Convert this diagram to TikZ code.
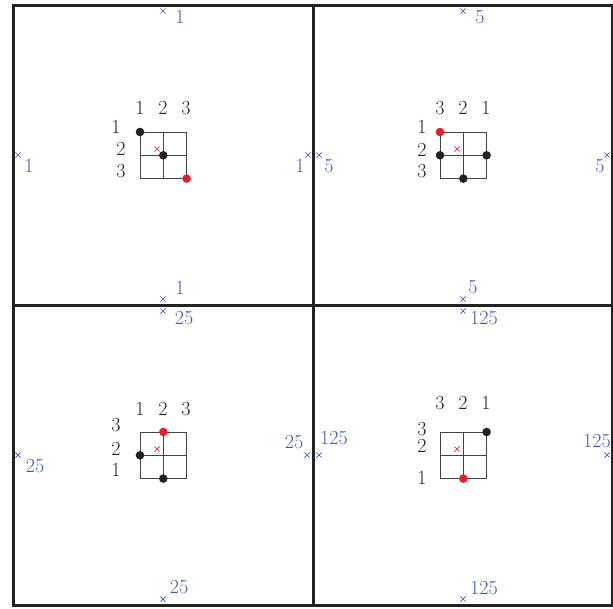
\documentclass[tikz,border=0pt]{standalone}
\usetikzlibrary{shapes.misc}
\definecolor{lblue}{RGB}{66,88,176}
\definecolor{lred}{RGB}{232,30,40}
\definecolor{ink}{RGB}{34,34,34}
\tikzset{
  frame/.style={line width=3pt, draw=ink},
  gridline/.style={line width=0.8pt, draw=ink!85},
  bdot/.style={circle, fill=ink, inner sep=0pt, minimum size=8.6pt},
  rdot/.style={circle, fill=lred, inner sep=0pt, minimum size=8.6pt},
  bx/.style={cross out, draw=lblue, line width=0.7pt, inner sep=0pt, minimum size=4.5pt},
  rx/.style={cross out, draw=lred, line width=0.7pt, inner sep=0pt, minimum size=4.5pt},
  lbl/.style={text=ink, inner sep=0pt, font=\fontsize{20}{24}\selectfont},
  blbl/.style={text=lblue, inner sep=0pt, font=\fontsize{20}{24}\selectfont}
}
\newcommand{\smallgrid}[2]{%
  \draw[gridline] (#1-23.3,#2-23.3) rectangle (#1+23.3,#2+23.3);
  \draw[gridline] (#1,#2-23.3) -- (#1,#2+23.3);
  \draw[gridline] (#1-23.3,#2) -- (#1+23.3,#2);
}
\begin{document}
\begin{tikzpicture}[x=1pt,y=-1pt]
\useasboundingbox (0,0) rectangle (613,608);

% ---------- Q1 ----------
\smallgrid{163.3}{155.3}
\node[lbl] (q1c1) at (140,108) {1};
\node[lbl] (q1c2) at (163,108) {2};
\node[lbl] (q1c3) at (186,108) {3};
\node[lbl] (q1r1) at (116,127) {1};
\node[lbl] (q1r2) at (121,149) {2};
\node[lbl] (q1r3) at (121,171) {3};
\node[rx] (q1x) at (157,149) {};
\node[bdot] (q1d1) at (140,132) {};
\node[bdot] (q1d2) at (163.3,155.3) {};
\node[rdot] (q1d3) at (186.6,178.6) {};
\node[bx] (q1t) at (163,11) {};
\node[blbl] (q1tl) at (180,17) {1};
\node[bx] (q1l) at (18,155) {};
\node[blbl] (q1ll) at (29,166) {1};
\node[bx] (q1r) at (308,155) {};
\node[blbl] (q1rl) at (300,166) {1};
\node[bx] (q1b) at (163,299) {};
\node[blbl] (q1bl) at (180,288) {1};

% ---------- Q2 ----------
\smallgrid{463.3}{155.3}
\node[lbl] (q2c1) at (440,108) {3};
\node[lbl] (q2c2) at (463,108) {2};
\node[lbl] (q2c3) at (486,108) {1};
\node[lbl] (q2r1) at (422,127) {1};
\node[lbl] (q2r2) at (422,150) {2};
\node[lbl] (q2r3) at (422,171) {3};
\node[rx] (q2x) at (457,149) {};
\node[rdot] (q2d1) at (440,132) {};
\node[bdot] (q2d2) at (440,155.3) {};
\node[bdot] (q2d3) at (486.6,155.3) {};
\node[bdot] (q2d4) at (463.3,178.6) {};
\node[bx] (q2t) at (463,11) {};
\node[blbl] (q2tl) at (480,17) {5};
\node[bx] (q2l) at (319,155) {};
\node[blbl] (q2ll) at (329,166) {5};
\node[bx] (q2r) at (607,155) {};
\node[blbl] (q2rl) at (600,166) {5};
\node[bx] (q2b) at (463,299) {};
\node[blbl] (q2bl) at (473,287) {5};

% ---------- Q3 ----------
\smallgrid{163.3}{455.3}
\node[lbl] (q3c1) at (140,409) {1};
\node[lbl] (q3c2) at (163,409) {2};
\node[lbl] (q3c3) at (186,409) {3};
\node[lbl] (q3r3) at (116,425) {3};
\node[lbl] (q3r2) at (116,449) {2};
\node[lbl] (q3r1) at (116,470) {1};
\node[rx] (q3x) at (157,449) {};
\node[rdot] (q3d1) at (163.3,432) {};
\node[bdot] (q3d2) at (140,455.3) {};
\node[bdot] (q3d3) at (163.3,478.6) {};
\node[bx] (q3t) at (163,311) {};
\node[blbl] (q3tl) at (184,318) {25};
\node[bx] (q3l) at (18,455) {};
\node[blbl] (q3ll) at (35,466) {25};
\node[bx] (q3r) at (307,455) {};
\node[blbl] (q3rl) at (294,442) {25};
\node[bx] (q3b) at (163,599) {};
\node[blbl] (q3bl) at (179,587) {25};

% ---------- Q4 ----------
\smallgrid{463.3}{455.3}
\node[lbl] (q4c1) at (440,403) {3};
\node[lbl] (q4c2) at (463,403) {2};
\node[lbl] (q4c3) at (486,403) {1};
\node[lbl] (q4r3) at (422,429) {3};
\node[lbl] (q4r2) at (422,446) {2};
\node[lbl] (q4r1) at (422,478) {1};
\node[rx] (q4x) at (457,449) {};
\node[bdot] (q4d1) at (486.6,432) {};
\node[rdot] (q4d2) at (463.3,478.6) {};
\node[bx] (q4t) at (463,311) {};
\node[blbl] (q4tl) at (484,318) {125};
\node[bx] (q4l) at (319,455) {};
\node[blbl] (q4ll) at (334,438) {125};
\node[bx] (q4r) at (607,455) {};
\node[blbl] (q4rl) at (597,441) {125};
\node[bx] (q4b) at (463,599) {};
\node[blbl] (q4bl) at (484,588) {125};

% ---------- frame ----------
\draw[frame] (13.5,5.5) rectangle (612,605);
\draw[frame] (313,5.5) -- (313,605);
\draw[frame] (13.5,305) -- (612,305);
\end{tikzpicture}
\end{document}
